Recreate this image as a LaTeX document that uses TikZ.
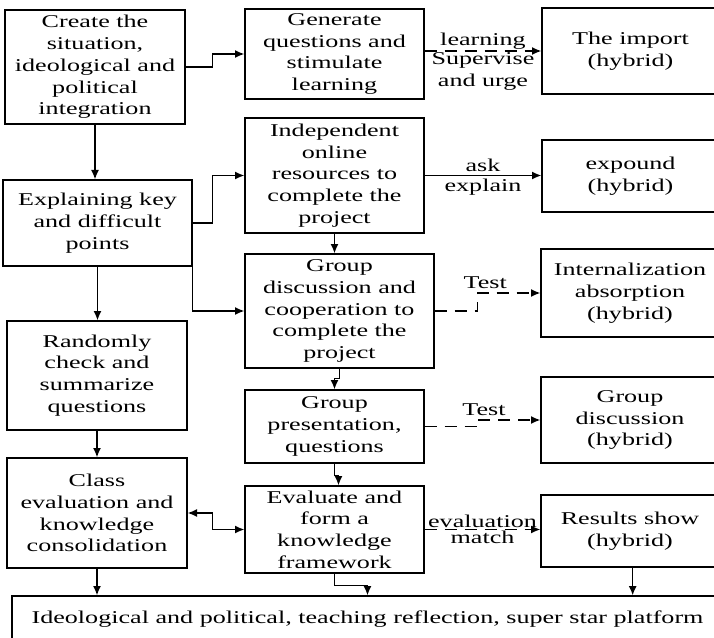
\documentclass[tikz,border=0pt]{standalone}
\usepackage{fontspec}
\setmainfont{Liberation Serif}[FakeStretch=1.45]
\usetikzlibrary{arrows.meta,positioning}
\tikzset{
  stage/.style={draw, line width=1pt, align=center, inner sep=0pt, font=\fontsize{13.5}{16.3}\selectfont},
  link/.style={line width=1pt, -{Latex[length=7pt,width=6pt]}},
  twoway/.style={line width=1pt, {Latex[length=7pt,width=6pt]}-{Latex[length=7pt,width=6pt]}},
  loose/.style={dash pattern=on 9pt off 6pt},
  hint/.style={font=\fontsize{13.5}{16.3}\selectfont, align=center, inner sep=2.5pt},
}
\begin{document}
\begin{tikzpicture}[x=0.75pt,y=0.75pt,yscale=-1,xscale=1]
\useasboundingbox (0,0) rectangle (714,638);
\clip (0,0) rectangle (714,638);

%Shape: Rectangle, left column
\node [stage, minimum width=135pt, minimum height=85.5pt] (create) at (95,67) {Create the\\situation,\\ideological and\\political\\integration};
\node [stage, minimum width=141.75pt, minimum height=64.5pt] (explain) at (97.5,223) {Explaining key\\and difficult\\points};
\node [stage, minimum width=135pt, minimum height=81.75pt] (check) at (97,375.5) {Randomly\\check and\\summarize\\questions};
\node [stage, minimum width=135pt, minimum height=82.5pt] (classeval) at (97,513) {Class\\evaluation and\\knowledge\\consolidation};

%Shape: Rectangle, middle column
\node [stage, minimum width=134.25pt, minimum height=67.5pt] (generate) at (334.5,54) {Generate\\questions and\\stimulate\\learning};
\node [stage, minimum width=134.25pt, minimum height=86.25pt] (online) at (334.5,175.5) {Independent\\online\\resources to\\complete the\\project};
\node [stage, minimum width=141.75pt, minimum height=85.5pt] (groupwork) at (339.5,311) {Group\\discussion and\\cooperation to\\complete the\\project};
\node [stage, minimum width=134.25pt, minimum height=54.75pt] (present) at (334.5,426.5) {Group\\presentation,\\questions};
\node [stage, minimum width=134.25pt, minimum height=65.25pt] (evaluate) at (334.5,529.5) {Evaluate and\\form a\\knowledge\\framework};

%Shape: Rectangle, right column (hybrid)
\node [stage, minimum width=132.75pt, minimum height=64.5pt] (import) at (630.5,51) {The import\\(hybrid)};
\node [stage, minimum width=132.75pt, minimum height=54pt] (expound) at (630.5,176) {expound\\(hybrid)};
\node [stage, minimum width=133.5pt, minimum height=66pt] (absorb) at (630,293) {Internalization\\absorption\\(hybrid)};
\node [stage, minimum width=133.5pt, minimum height=64.5pt] (discuss) at (630,420) {Group\\discussion\\(hybrid)};
\node [stage, minimum width=133.5pt, minimum height=54pt] (results) at (630,531) {Results show\\(hybrid)};

%Shape: Rectangle, bottom bar
\node [stage, minimum width=533.25pt, minimum height=34.5pt] (reflect) at (367.5,619) {Ideological and political, teaching reflection, super star platform};

%Straight Lines, left column
\draw [link] (create.south) -- (create.south |- explain.north);
\draw [link] (explain.south) -- (explain.south |- check.north);
\draw [link] (check.south) -- (check.south |- classeval.north);
\draw [link] (classeval.south) -- (classeval.south |- reflect.north);

%Elbow Lines, left to middle
\draw [link] (create.east) -- ++(27,0) |- (generate.west);
\draw [link] (explain.east) -- ++(20,0) |- (online.west);
\draw [link] (explain.south east) |- (groupwork.west);
\draw [twoway] (classeval.east) -- ++(25,0) |- (evaluate.west);

%Lines, middle column
\draw [link] (online.south) -- (online.south |- groupwork.north);
\draw [link] (groupwork.south) -- ++(0,10) -| (present.north);
\draw [link] (present.south) -- ++(0,12) -| ([xshift=3pt]evaluate.north);
\draw [link] (evaluate.south) -- ++(0,12) -| (reflect.north);
\draw [link] ([xshift=2pt]results.south) -- ([xshift=2pt]results.south |- reflect.north);

%Lines, middle to right
\draw [link, loose] (import.west -| generate.east) -- node [hint, above, inner sep=1pt] {learning} node [hint, below, inner sep=1pt] {Supervise\\and urge} (import.west);
\draw [link] (online.east) -- node [hint, above] {ask} node [hint, below] {explain} (online.east -| expound.west);
\draw [link, loose] (groupwork.east) -- ++(43,0) |- node [hint, above, pos=0.56] {Test} (absorb.west);
\draw [link, loose] (present.east) -- ++(53,0) |- node [hint, above, pos=0.55] {Test} (discuss.west);
\draw [link, loose] (evaluate.east) -- node [hint, above, inner sep=1pt] {evaluation} node [hint, below, inner sep=1pt] {match} (evaluate.east -| results.west);

\end{tikzpicture}
\end{document}
